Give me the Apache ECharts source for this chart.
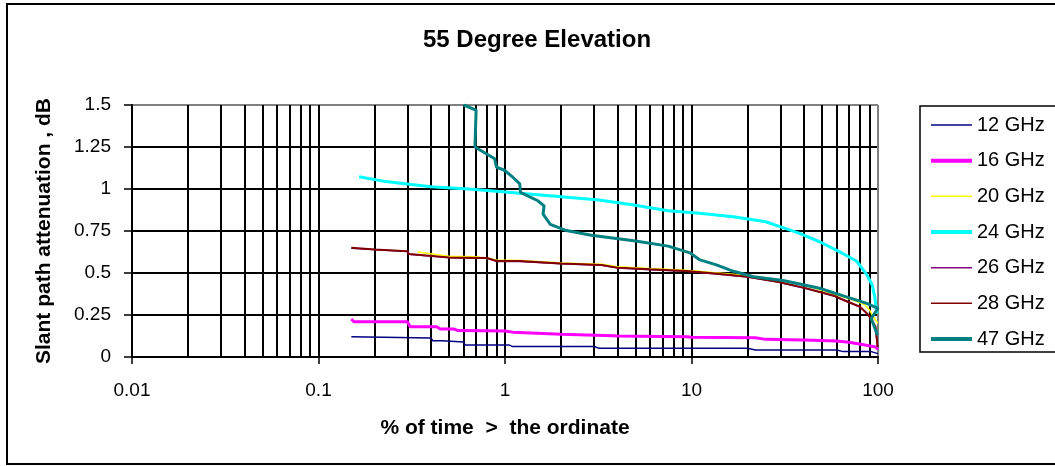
<!DOCTYPE html>
<html>
<head>
<meta charset="utf-8">
<script src="https://cdn.jsdelivr.net/npm/echarts@6/dist/echarts.min.js"></script>
<style>
  html, body { margin: 0; padding: 0; background: #fff; }
  #chart { width: 1055px; height: 466px; }
</style>
</head>
<body>
<div id="chart"></div>
<script>
// values: [% of time, attenuation dB]
var ghz12 = [[0.15, 0.12], [0.15, 0.113], [0.4, 0.113], [0.41, 0.097], [0.46, 0.097], [0.47, 0.09], [0.6, 0.09], [0.61, 0.072], [1.05, 0.072], [1.1, 0.062], [3.0, 0.062], [3.2, 0.052], [20, 0.052], [22, 0.042], [60, 0.042], [65, 0.032], [92, 0.032], [100, 0.02]]
var ghz16 = [[0.15, 0.225], [0.155, 0.21], [0.3, 0.21], [0.31, 0.18], [0.43, 0.18], [0.45, 0.167], [0.53, 0.167], [0.56, 0.157], [1.0, 0.155], [1.1, 0.148], [1.6, 0.14], [2.0, 0.135], [3.8, 0.127], [4.0, 0.125], [9.5, 0.12], [10, 0.117], [22, 0.115], [25, 0.105], [45, 0.1], [60, 0.095], [70, 0.088], [88, 0.068], [97, 0.06], [100, 0.045]]
var ghz20 = [[0.34, 0.625], [0.5, 0.6], [0.7, 0.597], [0.9, 0.578], [1.2, 0.575], [2, 0.56], [3.3, 0.552], [4, 0.537], [6, 0.527], [9.4, 0.517], [13, 0.503], [20, 0.485], [29, 0.458], [41, 0.425], [58, 0.375], [73, 0.34], [85, 0.31], [90, 0.28], [93, 0.25], [100, 0.2]]
var ghz24 = [[0.165, 1.073], [0.23, 1.044], [0.4, 1.014], [0.67, 0.998], [1.0, 0.982], [1.2, 0.974], [1.8, 0.958], [3.2, 0.935], [4.9, 0.905], [7.5, 0.871], [11, 0.855], [16.8, 0.835], [25, 0.805], [29.8, 0.776], [38, 0.736], [48.6, 0.686], [62, 0.627], [77, 0.57], [87, 0.49], [93, 0.43], [96, 0.359], [98, 0.28], [99, 0.26]]
var ghz26 = [[0.15, 0.648], [0.3, 0.628], [0.305, 0.611], [0.5, 0.591], [0.8, 0.588], [0.9, 0.569], [1.2, 0.569], [2.0, 0.555], [3.3, 0.546], [4, 0.53], [6, 0.52], [9.4, 0.51], [13, 0.496], [20, 0.476], [29, 0.446], [41, 0.408], [58, 0.363], [67, 0.333], [80, 0.298], [89, 0.248], [97, 0.178], [99.5, 0.06]]
var ghz28 = [[0.15, 0.65], [0.2, 0.64], [0.3, 0.63], [0.305, 0.613], [0.5, 0.593], [0.8, 0.59], [0.9, 0.571], [1.2, 0.571], [2.0, 0.557], [3.3, 0.548], [4, 0.532], [6, 0.522], [9.4, 0.512], [13, 0.498], [20, 0.478], [29, 0.448], [41, 0.41], [58, 0.365], [67, 0.335], [80, 0.3], [89, 0.25], [97, 0.18], [99.5, 0.06]]
var ghz47 = [[0.6, 1.5], [0.7, 1.47], [0.69, 1.25], [0.88, 1.18], [0.9, 1.13], [1.0, 1.11], [1.1, 1.07], [1.2, 1.03], [1.21, 0.98], [1.5, 0.93], [1.62, 0.9], [1.6, 0.85], [1.75, 0.79], [2.1, 0.755], [2.9, 0.725], [4.9, 0.692], [7.5, 0.66], [9.8, 0.62], [11, 0.58], [13.6, 0.548], [16.8, 0.51], [21.5, 0.478], [31, 0.455], [48.6, 0.409], [67, 0.359], [87, 0.319], [100, 0.29], [92, 0.23], [99.3, 0.13]]

var seriesNames = ['12 GHz', '16 GHz', '20 GHz', '24 GHz', '26 GHz', '28 GHz', '47 GHz']
var seriesData = [ghz12, ghz16, ghz20, ghz24, ghz26, ghz28, ghz47]
var seriesColors = ['#000080', '#ff00ff', '#ffff00', '#00ffff', '#800080', '#800000', '#008080']
var seriesWidths = [1.5, 3, 1.5, 3, 1.5, 2, 3]

var xTicks = [0.01, 0.1, 1, 10, 100]
var yTicks = [0, 0.25, 0.5, 0.75, 1, 1.25, 1.5]
var gridMultiples = [2, 3, 4, 5, 6, 7, 8, 9]

var font = '"Liberation Sans", Arial, sans-serif'

function minorGridLines() {
  var lines = []
  xTicks.slice(0, -1).forEach(decade => {
    gridMultiples.forEach(m => {
      lines.push({ xAxis: +(decade * m).toPrecision(3) })
    })
  })
  return lines
}

function RenderChart() {
  var dom = document.getElementById('chart')
  var myChart = echarts.init(dom)
  var option

  var series = seriesData.map((data, i) => ({
    name: seriesNames[i],
    type: 'line',
    data: data,
    symbol: 'none',
    showSymbol: false,
    z: 3 + i,
    lineStyle: { color: seriesColors[i], width: seriesWidths[i] },
    itemStyle: { color: seriesColors[i] },
    emphasis: { disabled: true }
  }))

  // the vertical lines between the decades
  series.push({
    type: 'line',
    data: [],
    silent: true,
    markLine: {
      z: 1,
      silent: true,
      symbol: ['none', 'none'],
      label: { show: false },
      emphasis: { disabled: true },
      lineStyle: { color: '#000', width: 2, type: 'solid' },
      data: minorGridLines()
    }
  })

  var legendData = seriesNames.map((name, i) => ({
    name: name,
    lineStyle: { width: seriesWidths[i] > 2 ? 4 : 1.5 }
  }))

  option = {
    animation: false,
    backgroundColor: '#fff',
    title: {
      text: '55 Degree Elevation',
      left: 537,
      top: 28,
      textAlign: 'center',
      padding: 0,
      textStyle: { fontFamily: font, fontWeight: 'bold', fontSize: 24, color: '#000' }
    },
    legend: {
      orient: 'vertical',
      left: 920,
      top: 106,
      itemWidth: 41,
      itemHeight: 14,
      itemGap: 15.67,
      padding: [9, 9, 2, 9],
      selectedMode: false,
      itemStyle: { opacity: 0 },
      data: legendData,
      textStyle: { fontFamily: font, fontSize: 20, color: '#000' }
    },
    graphic: [{
      type: 'rect',
      z: -10,
      shape: { x: 7, y: 4, width: 1100, height: 460 },
      style: { fill: 'none', stroke: '#000', lineWidth: 2 }
    }, {
      // legend frame, runs off the right edge like the original
      type: 'rect',
      z: -5,
      shape: { x: 920, y: 106, width: 200, height: 246 },
      style: { fill: 'none', stroke: '#000', lineWidth: 1.5 }
    }],
    grid: {
      left: 132,
      right: 177,
      top: 105,
      bottom: 109,
      show: false
    },
    xAxis: {
      type: 'log',
      logBase: 10,
      min: 0.01,
      max: 100,
      name: '% of time  >  the ordinate',
      nameLocation: 'middle',
      nameGap: 61,
      nameTextStyle: { fontFamily: font, fontWeight: 'bold', fontSize: 21, color: '#000' },
      axisLine: { lineStyle: { color: '#000', width: 2 } },
      axisTick: { show: true, length: 7, lineStyle: { color: '#000', width: 1.5 } },
      axisLabel: {
        margin: 24,
        fontFamily: font,
        fontSize: 19,
        color: '#000',
        formatter: v => String(+v.toPrecision(3))
      },
      splitLine: {
        show: true,
        lineStyle: { color: ['#000', '#000', '#000', '#000', '#808080'], width: 2 }
      }
    },
    yAxis: {
      type: 'value',
      min: 0,
      max: 1.5,
      interval: 0.25,
      name: 'Slant path attenuation , dB',
      nameLocation: 'middle',
      nameGap: 77,
      nameTextStyle: { fontFamily: font, fontWeight: 'bold', fontSize: 21, color: '#000' },
      axisLine: { show: true, lineStyle: { color: '#000', width: 2 } },
      axisTick: { show: true, length: 8, lineStyle: { color: '#000', width: 1.5 } },
      axisLabel: {
        margin: 21,
        fontFamily: font,
        fontSize: 19,
        color: '#000',
        formatter: v => String(+v.toFixed(2))
      },
      splitLine: {
        show: true,
        lineStyle: { color: ['#000', '#000', '#000', '#000', '#000', '#000', '#808080'], width: 2 }
      }
    },
    series: series
  }

  if (option && typeof option === 'object') {
    myChart.setOption(option)
  }
}

window.onload = RenderChart
</script>
</body>
</html>
